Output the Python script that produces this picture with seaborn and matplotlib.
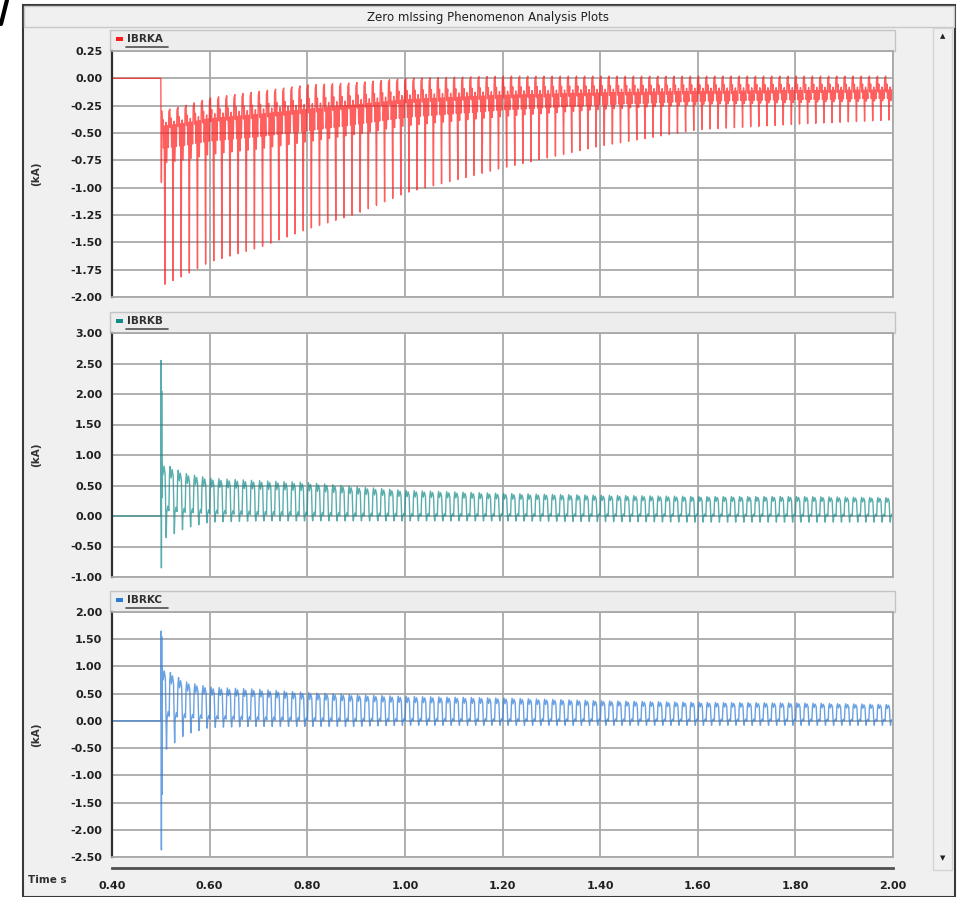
import numpy as np
import pandas as pd
import seaborn as sns
import matplotlib.pyplot as plt
from matplotlib.patches import Rectangle
from matplotlib.lines import Line2D

# ---- values ----
FREQ = 60.0
t_begin = 0.40
t_fault = 0.50
t_end = 2.00

# envelope readings (peak and mid-band values) at these times
env_t = [0.50, 0.55, 0.60, 0.70, 0.80, 0.90, 1.00, 1.20, 1.40, 1.60, 1.80, 2.00]
a_upper = [-0.30, -0.25, -0.18, -0.12, -0.06, -0.04, 0.00, 0.02, 0.02, 0.02, 0.02, 0.02]
a_mid = [-0.50, -0.48, -0.45, -0.42, -0.38, -0.33, -0.28, -0.23, -0.20, -0.18, -0.17, -0.16]
a_lower = [-1.90, -1.80, -1.68, -1.55, -1.38, -1.24, -1.05, -0.82, -0.62, -0.47, -0.42, -0.38]
b_upper = [0.88, 0.70, 0.62, 0.58, 0.55, 0.48, 0.42, 0.37, 0.34, 0.32, 0.32, 0.30]
b_mid = [0.10, 0.06, 0.04, 0.02, 0.01, 0.00, 0.00, 0.00, 0.00, 0.00, 0.00, 0.00]
b_lower = [-0.40, -0.20, -0.10, -0.08, -0.08, -0.08, -0.08, -0.08, -0.09, -0.10, -0.10, -0.10]
c_upper = [1.00, 0.72, 0.62, 0.58, 0.52, 0.48, 0.45, 0.42, 0.37, 0.34, 0.33, 0.30]
c_mid = [0.10, 0.06, 0.04, 0.02, 0.01, 0.00, 0.00, 0.00, 0.00, 0.00, 0.00, 0.00]
c_lower = [-0.60, -0.25, -0.12, -0.10, -0.10, -0.10, -0.08, -0.08, -0.08, -0.08, -0.08, -0.08]

# switching transient right at the fault instant
a_fault_v = [0.00, -0.60, -0.95, -0.50]
b_fault_v = [0.00, 2.55, -0.85, 2.05, 0.30]
c_fault_v = [0.00, 1.65, -2.37, 1.55, -1.35, 0.50]

# shape of one cycle: phase (0..1) and level (+1 upper, 0 mid band, -1 lower)
a_phase = [0.00, 0.05, 0.15, 0.22, 0.32, 0.40, 0.45, 0.52, 0.62, 0.70, 0.80, 0.88]
a_level = [1.00, 0.20, 0.60, -0.10, 0.30, -1.00, 0.00, 0.45, -0.20, 0.30, -0.10, 0.90]
bc_phase = [0.00, 0.12, 0.25, 0.38, 0.46, 0.52, 0.58, 0.72, 0.85, 0.92]
bc_level = [1.00, 0.75, 0.95, 0.80, 0.00, -1.00, -0.10, 0.10, 0.00, 0.80]

signals = ["IBRKA", "IBRKB", "IBRKC"]
colors = ["#ff1a1a", "#138a8a", "#2a7ad8"]
ylims = [(-2.0, 0.25), (-1.0, 3.0), (-2.5, 2.0)]
ysteps = [0.25, 0.5, 0.5]
x_ticks = [0.40, 0.60, 0.80, 1.00, 1.20, 1.40, 1.60, 1.80, 2.00]
title = "Zero mIssing Phenomenon Analysis Plots"


def build_trace(upper, mid, lower, fault_v, phase, level):
    dt = 0.0006
    t = [t_begin, t_fault]
    v = [0.0, 0.0]
    for i, fv in enumerate(fault_v):
        t.append(t_fault + i * dt)
        v.append(fv)
    start = t[-1]
    n = 0
    while True:
        t0 = start + n / FREQ
        if t0 > t_end:
            break
        for ph, lv in zip(phase, level):
            tt = t0 + ph / FREQ
            if tt > t_end:
                break
            up = np.interp(tt, env_t, upper)
            md = np.interp(tt, env_t, mid)
            lo = np.interp(tt, env_t, lower)
            t.append(tt)
            v.append(md + lv * (up - md) if lv >= 0 else md - lv * (lo - md))
        n += 1
    return pd.DataFrame({"time": t, "kA": v})


traces = [
    build_trace(a_upper, a_mid, a_lower, a_fault_v, a_phase, a_level),
    build_trace(b_upper, b_mid, b_lower, b_fault_v, bc_phase, bc_level),
    build_trace(c_upper, c_mid, c_lower, c_fault_v, bc_phase, bc_level),
]

sns.set_style("white")
plt.rcParams["font.family"] = ["DejaVu Sans"]

W, H = 966, 897
fig = plt.figure(figsize=(W / 100, H / 100), dpi=100, facecolor="white")


def fx(x):
    return x / W


def fy(y):
    return 1 - y / H


def frect(x0, y0, x1, y1, z=-10, **kw):
    fig.patches.append(Rectangle((fx(x0), fy(y1)), fx(x1) - fx(x0), fy(y0) - fy(y1),
                                 transform=fig.transFigure, figure=fig, zorder=z, **kw))


# window frame and title bar
frect(23, 5, 955, 897, facecolor="#f0f0f0", edgecolor="#3a3a3a", lw=1.5, z=-20)
frect(24, 6, 954, 27, facecolor="#f0f0f0", edgecolor="#c8c8c8", lw=1)
fig.text(fx(488), fy(17), title, ha="center", va="center", fontsize=8.5, color="#202020")
fig.lines.append(Line2D([fx(7), fx(1)], [fy(0), fy(24)], transform=fig.transFigure,
                        color="black", lw=3))

# scrollbar
frect(933, 28, 952, 870, facecolor="#f0f0f0", edgecolor="#d4d4d4", lw=1)
fig.text(fx(943), fy(36), "\u25b2", ha="center", va="center", fontsize=5, color="#202020")
fig.text(fx(943), fy(858), "\u25bc", ha="center", va="center", fontsize=5, color="#202020")

# panel geometry in pixels: (top of header, top of plot, bottom of plot)
panels = [(30, 51, 297), (312, 333, 577), (591, 612, 857)]
x_left, x_right = 112, 893

for k, (hy, py0, py1) in enumerate(panels):
    # legend header strip
    frect(110, hy, 895, py0, facecolor="#ededed", edgecolor="#c4c4c4", lw=1)
    frect(116, hy + 7, 123, hy + 11, z=5, facecolor=colors[k], edgecolor="none")
    fig.text(fx(127), fy(hy + 9), signals[k], ha="left", va="center",
             fontsize=7.5, fontweight="bold", color="#303030")
    fig.lines.append(Line2D([fx(126), fx(168)], [fy(hy + 17), fy(hy + 17)],
                            transform=fig.transFigure, color="#505050", lw=1.2))

    ax = fig.add_axes([fx(x_left), fy(py1), fx(x_right) - fx(x_left), fy(py0) - fy(py1)])
    ax.set_zorder(1)
    ax.set_facecolor("white")
    sns.lineplot(data=traces[k], x="time", y="kA", ax=ax, color=colors[k],
                 linewidth=1.0, alpha=0.7, estimator=None, sort=False, legend=False)
    lo, hi = ylims[k]
    ax.set_xlim(t_begin, t_end)
    ax.set_ylim(lo, hi)
    yt = np.arange(lo, hi + 1e-9, ysteps[k])
    ax.set_yticks(yt)
    ax.set_yticklabels([f"{v:.2f}" for v in yt], fontsize=8, fontweight="bold", color="#202020")
    ax.set_xticks(x_ticks)
    ax.tick_params(axis="x", length=0, labelbottom=False)
    ax.tick_params(axis="y", length=4, width=1.2, color="#303030", pad=3, direction="out")
    ax.grid(True, color="#a9a9a9", lw=1.3)
    ax.set_axisbelow(True)
    for s in ["top", "right", "bottom"]:
        ax.spines[s].set_color("#a9a9a9")
        ax.spines[s].set_linewidth(1.3)
    ax.spines["left"].set_color("#303030")
    ax.spines["left"].set_linewidth(1.6)
    ax.set_xlabel("")
    ax.set_ylabel("")
    fig.text(fx(36), fy((py0 + py1) / 2), "(kA)", rotation=90, ha="center", va="center",
             fontsize=7.5, fontweight="bold", color="#303030")

# time ruler under the plots
axr = fig.add_axes([fx(x_left), fy(868), fx(x_right) - fx(x_left), 0.0001])
axr.set_zorder(1)
axr.set_facecolor("none")
axr.set_xlim(t_begin, t_end)
axr.set_yticks([])
axr.set_xticks(x_ticks)
axr.set_xticks(np.arange(0.5, 2.0, 0.2), minor=True)
axr.set_xticklabels([f"{v:.2f}" for v in x_ticks], fontsize=8, fontweight="bold", color="#202020")
axr.tick_params(axis="x", which="major", length=5, width=1.2, color="#404040", pad=4)
axr.tick_params(axis="x", which="minor", length=3, width=1.2, color="#404040")
for s in ["top", "right", "left"]:
    axr.spines[s].set_visible(False)
axr.spines["bottom"].set_color("#505050")
axr.spines["bottom"].set_linewidth(2)
fig.text(fx(28), fy(880), "Time s", ha="left", va="center", fontsize=7.5,
         fontweight="bold", color="#303030")

fig.savefig("out.png", dpi=100, facecolor="white")
